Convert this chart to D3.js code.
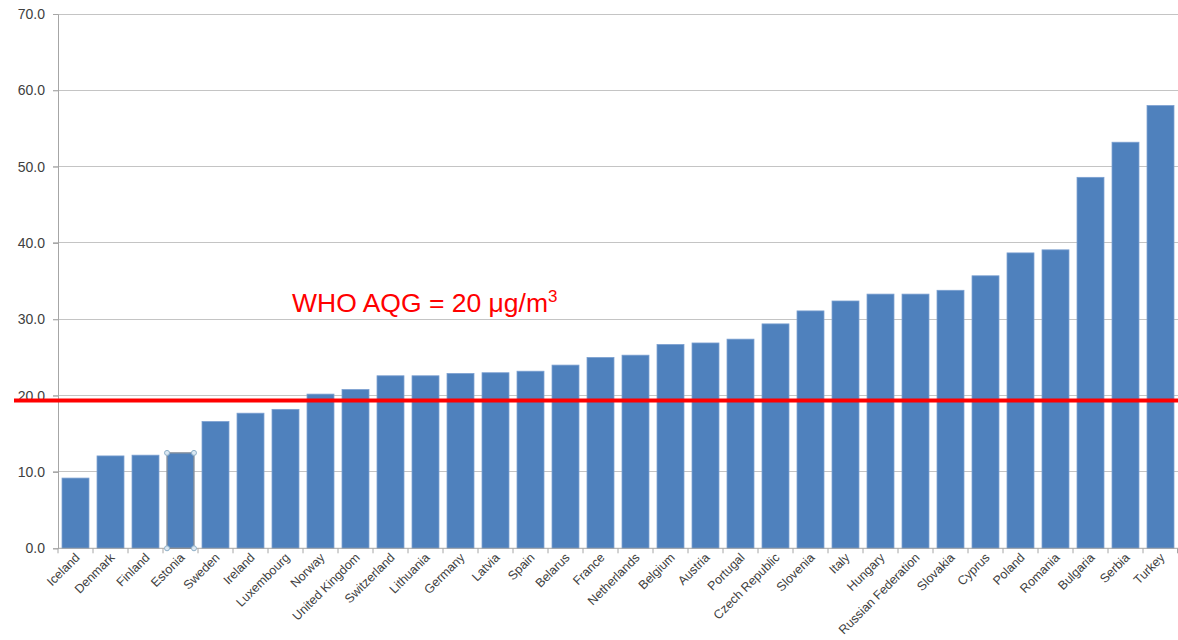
<!DOCTYPE html>
<html>
<head>
<meta charset="utf-8">
<script src="https://cdn.jsdelivr.net/npm/d3@7"></script>
<style>
  html, body { margin: 0; padding: 0; background: #fff; }
  svg { display: block; }
</style>
</head>
<body>
<svg id="chart" width="1178" height="640"></svg>
<script>
const countries = ["Iceland","Denmark","Finland","Estonia","Sweden","Ireland","Luxembourg","Norway",
  "United Kingdom","Switzerland","Lithuania","Germany","Latvia","Spain","Belarus","France",
  "Netherlands","Belgium","Austria","Portugal","Czech Republic","Slovenia","Italy","Hungary",
  "Russian Federation","Slovakia","Cyprus","Poland","Romania","Bulgaria","Serbia","Turkey"];
const values = [9.2,12.1,12.2,12.5,16.6,17.7,18.2,20.2,
  20.8,22.6,22.6,22.9,23.0,23.2,24.0,25.0,
  25.3,26.7,26.9,27.4,29.4,31.1,32.4,33.3,
  33.3,33.8,35.7,38.7,39.1,48.6,53.2,58.0];
const yTicks = [0,10,20,30,40,50,60,70];
const guidelineValue = 19.35;
const guidelineLabel = "WHO AQG = 20 μg/m";
const guidelineSup = "3";
const selectedCountry = "Estonia";

(function () {
const svg = d3.select("#chart");
const mLeft = 58, mRight = 1178, mTop = 14, mBottom = 548.3;

const x = d3.scaleBand().domain(countries).range([mLeft, mRight]).paddingInner(0.23).paddingOuter(0.115);
const y = d3.scaleLinear().domain([0, 70]).range([mBottom, mTop]);

// gridlines
svg.append("g").selectAll("line").data(yTicks.filter(t => t > 0)).join("line")
  .attr("x1", mLeft - 5).attr("x2", mRight)
  .attr("y1", d => y(d)).attr("y2", d => y(d))
  .attr("stroke", "#c4c4c4").attr("stroke-width", 1).attr("shape-rendering", "crispEdges");

// y axis
const yAxis = d3.axisLeft(y).tickValues(yTicks).tickSize(5).tickFormat(d3.format(".1f"));
const gy = svg.append("g").attr("transform", `translate(${mLeft},0)`).call(yAxis);
gy.select(".domain").attr("stroke", "#a6a6a6");
gy.selectAll(".tick line").attr("stroke", "#a6a6a6");
gy.selectAll(".tick text").attr("font-family", "Liberation Sans, Arial, sans-serif")
  .attr("font-size", 14).attr("fill", "#404040").attr("x", -13);

// bars
const data = countries.map((c, i) => ({ c, v: values[i] }));
svg.append("g").selectAll("rect").data(data).join("rect")
  .attr("x", d => x(d.c)).attr("width", x.bandwidth())
  .attr("y", d => y(d.v)).attr("height", d => y(0) - y(d.v))
  .attr("fill", "#4f81bd").attr("stroke", "#7a9fd0").attr("stroke-width", 0.8);

// x axis
const gx = svg.append("g").attr("transform", `translate(0,${mBottom})`);
gx.append("line").attr("x1", mLeft).attr("x2", mRight).attr("y1", 0).attr("y2", 0)
  .attr("stroke", "#a6a6a6");
const boundaries = countries.map(c => x(c) - x.step() * x.paddingInner() / 2).concat([mRight - 0.5]);
gx.selectAll("line.tk").data(boundaries).join("line").attr("class", "tk")
  .attr("x1", d => d).attr("x2", d => d).attr("y1", 0).attr("y2", 5)
  .attr("stroke", "#a6a6a6");
gx.selectAll("text").data(countries).join("text")
  .attr("transform", d => `translate(${x(d) + x.bandwidth() / 2 + 5},${10}) rotate(-45)`)
  .attr("text-anchor", "end")
  .attr("font-family", "Liberation Sans, Arial, sans-serif")
  .attr("font-size", 12.5).attr("fill", "#404040")
  .text(d => d);

// selection handles on selected bar
const sel = data.find(d => d.c === selectedCountry);
const sx0 = x(sel.c), sx1 = x(sel.c) + x.bandwidth(), sy0 = y(sel.v), sy1 = y(0);
svg.append("rect").attr("x", sx0).attr("y", sy0).attr("width", sx1 - sx0).attr("height", sy1 - sy0)
  .attr("fill", "none").attr("stroke", "#8c8c8c").attr("stroke-width", 1);
svg.append("g").selectAll("circle").data([[sx0, sy0],[sx1, sy0],[sx0, sy1],[sx1, sy1]]).join("circle")
  .attr("cx", d => d[0]).attr("cy", d => d[1]).attr("r", 2.5)
  .attr("fill", "#dbe8f3").attr("stroke", "#8fb0c8").attr("stroke-width", 1);

// guideline
svg.append("line").attr("x1", 14).attr("x2", mRight)
  .attr("y1", y(guidelineValue)).attr("y2", y(guidelineValue))
  .attr("stroke", "#ff0000").attr("stroke-width", 4);

const lbl = svg.append("text").attr("x", 292).attr("y", 312)
  .attr("font-family", "Liberation Sans, Arial, sans-serif").attr("font-size", 26.5)
  .attr("fill", "#ff0000").text(guidelineLabel);
lbl.append("tspan").attr("font-size", 17).attr("dy", -10).text(guidelineSup);
})();
</script>
</body>
</html>
